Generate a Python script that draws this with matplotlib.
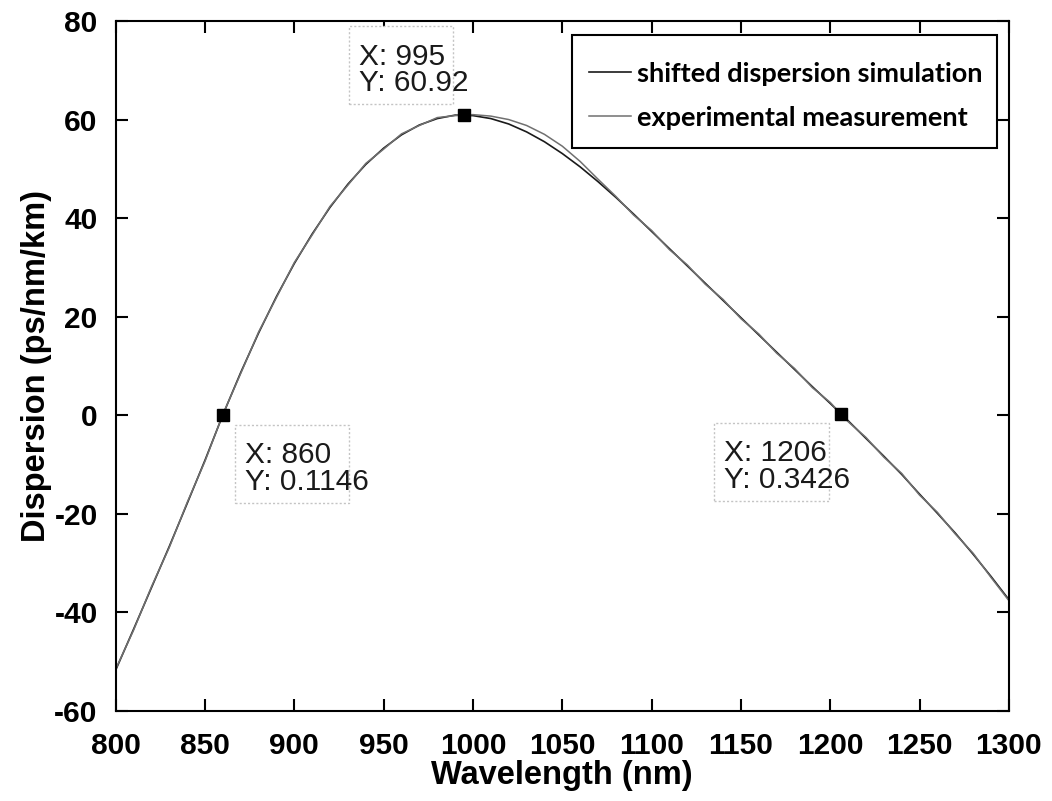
import numpy as np
import matplotlib
matplotlib.use("Agg")
import matplotlib.pyplot as plt
from matplotlib.patches import Rectangle
from matplotlib.transforms import IdentityTransform

plt.rcParams['font.family'] = ['Liberation Sans', 'DejaVu Sans']
plt.rcParams['axes.unicode_minus'] = False

# wavelength grid (nm) and dispersion values (ps/nm/km)
wavelength = [800, 810, 820, 830, 840, 850, 860, 870, 880, 890, 900, 910, 920, 930,
              940, 950, 960, 970, 980, 990, 1000, 1010, 1020, 1030, 1040, 1050, 1060,
              1070, 1080, 1090, 1100, 1110, 1120, 1130, 1140, 1150, 1160, 1170, 1180,
              1190, 1200, 1210, 1220, 1230, 1240, 1250, 1260, 1270, 1280, 1290, 1300]

sim_disp = [-51.7, -43.4, -35.0, -26.6, -17.9, -9.1, 0.1, 8.7, 16.7, 24.1, 30.8, 36.8,
            42.2, 46.9, 50.9, 54.2, 56.9, 58.9, 60.2, 60.9, 60.8, 60.2, 59.1, 57.5,
            55.5, 53.1, 50.4, 47.4, 44.2, 40.8, 37.3, 33.8, 30.3, 26.8, 23.3, 19.8,
            16.3, 12.8, 9.3, 5.8, 2.4, -1.1, -4.7, -8.3, -12.0, -16.0, -19.9, -23.9,
            -28.2, -32.7, -37.4]

exp_disp = [-51.5, -43.6, -34.8, -26.8, -17.7, -9.3, 0.2, 8.5, 16.9, 23.9, 31.0, 36.6,
            42.4, 46.7, 51.1, 54.0, 57.1, 58.8, 60.4, 60.8, 61.0, 60.7, 60.0, 58.8,
            57.0, 54.6, 51.5, 47.9, 44.4, 40.6, 37.5, 33.6, 30.5, 26.6, 23.5, 19.6,
            16.5, 12.6, 9.5, 5.6, 2.6, -1.3, -4.5, -8.5, -11.8, -16.2, -19.7, -24.1,
            -28.0, -32.9, -37.6]

# data tips
tip_x = [995, 860, 1206]
tip_y = [60.92, 0.1146, 0.3426]
tip_text = ["X: 995\nY: 60.92", "X: 860\nY: 0.1146", "X: 1206\nY: 0.3426"]
tip_offset = [(-105, 45), (22, -54), (-117, -53)]   # pixels from the marker
tip_boxw = [104, 114, 115]

fig = plt.figure(figsize=(10.52, 8.01), dpi=100)
ax = fig.add_axes([0.110, 0.1124, 0.849, 0.8614])

ax.plot(wavelength, sim_disp, color='#1a1a1a', lw=1.2, label='shifted dispersion simulation')
ax.plot(wavelength, exp_disp, color='#707070', lw=1.1, label='experimental measurement')

ax.set_xlim(800, 1300)
ax.set_ylim(-60, 80)
ax.set_xticks(np.arange(800, 1301, 50))
ax.set_yticks(np.arange(-60, 81, 20))

for x, y, txt, (dx, dy), bw in zip(tip_x, tip_y, tip_text, tip_offset, tip_boxw):
    ax.plot([x], [y], marker='s', ms=9, color='black', mec='black', zorder=5)
    px, py = ax.transData.transform((x, y))
    box = Rectangle((px + dx - 10, py + dy - 34), bw, 78, transform=IdentityTransform(),
                    fc='white', ec='#c4c4c4', lw=1.0, ls=(0, (1.5, 1.5)), zorder=3)
    ax.add_artist(box)
    ax.annotate(txt, xy=(x, y), xytext=(dx, dy), textcoords='offset pixels',
                ha='left', va='center', fontsize=21.5, linespacing=0.95,
                color='#1a1a1a', zorder=4)

ax.tick_params(direction='in', length=8.5, width=1.5, top=True, right=True,
               labelsize=21.5)
ax.tick_params(axis='x', pad=15)
ax.tick_params(axis='y', pad=13)
for lab in ax.get_xticklabels() + ax.get_yticklabels():
    lab.set_fontweight('bold')
for sp in ax.spines.values():
    sp.set_linewidth(1.5)

ax.set_xlabel('Wavelength (nm)', fontsize=23.5, fontweight='bold', labelpad=0)
ax.set_ylabel('Dispersion (ps/nm/km)', fontsize=23.5, fontweight='bold', labelpad=2)

# legend frame drawn separately so it can be taller than the entries need
leg_frame = Rectangle((0.5106, 0.8159), 0.4759, 0.1638, transform=ax.transAxes,
                      fc='white', ec='black', lw=1.5, zorder=6)
ax.add_artist(leg_frame)
leg = ax.legend(loc='upper right', bbox_to_anchor=(0.9866, 0.9623), borderaxespad=0,
                prop={'family': ['Lato', 'DejaVu Sans'], 'weight': 'bold', 'size': 19.5},
                handlelength=1.55, handletextpad=0.2, borderpad=0.55,
                labelspacing=0.73, frameon=False)
leg.set_zorder(7)

fig.savefig('out.png', dpi=100)
